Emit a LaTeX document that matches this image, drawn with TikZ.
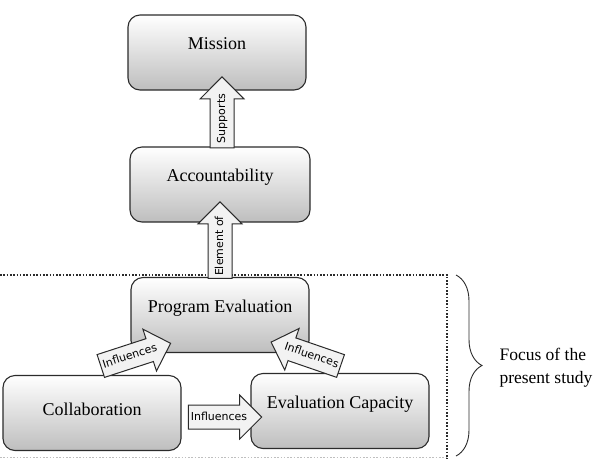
\documentclass[tikz,border=0pt]{standalone}
\usepackage{fontspec}
\setmainfont{Liberation Serif}
\newfontfamily\arrowfont{DejaVu Sans}
\usepackage{tikz}
\usetikzlibrary{shapes.arrows, decorations.pathreplacing, positioning, calc}

\definecolor{edgegray}{HTML}{2B2B2B}
\definecolor{boxbottom}{HTML}{BEBEBE}
\definecolor{arrowfill}{HTML}{F2F2F2}

\begin{document}
\begin{tikzpicture}[
            x=1pt, y=-1pt,
            box/.style={rectangle, rounded corners=12pt, draw=edgegray, line width=1.1pt,
                top color=white, bottom color=boxbottom, minimum width=178pt, minimum height=75pt,
                text height=6pt, text depth=12pt, font=\fontsize{18}{20}\selectfont},
            blockarrow/.style={single arrow, draw=edgegray, line width=1pt, fill=arrowfill,
                single arrow head extend=10pt, minimum height=72pt, inner xsep=2pt, inner ysep=6.5pt,
                text height=8pt, text depth=2pt, font=\arrowfont\fontsize{11}{12}\selectfont}
        ]
            \useasboundingbox (0,0) rectangle (606,459);

            % boxes
            \node[box] (mission) at (217,52.5) {Mission};
            \node[box, minimum width=180pt] (acc) at (220,184.5) {Accountability};
            \node[box] (progeval) at (220,315) {Program Evaluation};
            \node[box, text height=8pt, text depth=4pt] (collab) at (92,413) {Collaboration};
            \node[box] (evalcap) at (340,411) {Evaluation Capacity};

            % focus of the study
            \draw[edgegray, line width=1.6pt, dash pattern=on 1.6pt off 1.7pt]
                (0,275) -- (447,275) -- (447,459);
            \draw[gray!50, line width=1pt, dash pattern=on 1.6pt off 1.7pt] (0,457) -- (447,457);
            \draw[edgegray, line width=0.9pt, decorate, decoration={brace, amplitude=26pt}]
                (456,275) -- (456,456) coordinate[midway] (bracemid);
            \node[anchor=west, align=left, font=\fontsize{17.5}{23}\selectfont] (focus) at (496,368)
                {Focus of the\\present study};

            % connectors
            \node[blockarrow, rotate=90, anchor=west, minimum height=71pt] (supports)
                at ([xshift=2pt, yshift=-2pt]acc.north) {Supports};
            \node[blockarrow, rotate=90, anchor=west] (elementof)
                at ([yshift=-2pt]progeval.north) {Element of};
            \node[blockarrow, rotate=18, minimum height=68pt] (infleft) at (130,356.5) {Influences};
            \node[blockarrow, shape border rotate=180, rotate=-19, minimum height=68pt] (infright)
                at (311.5,356) {Influences};
            \node[blockarrow] (infbottom) at (219,417) {Influences};
        \end{tikzpicture}
\end{document}
